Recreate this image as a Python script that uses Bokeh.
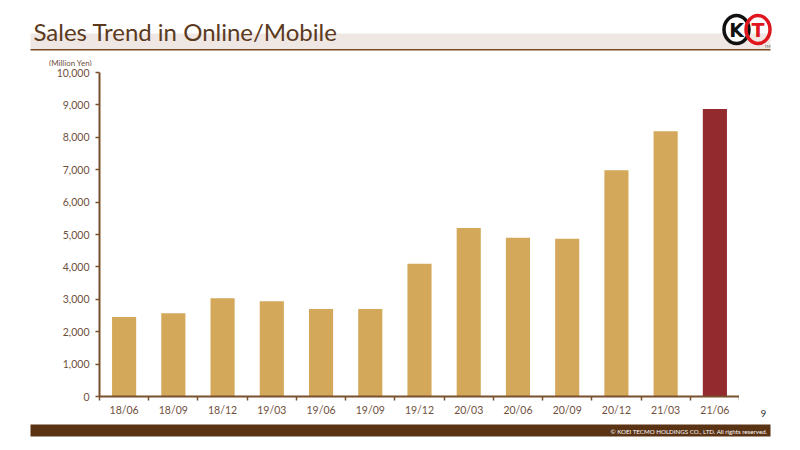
from bokeh.plotting import figure
from bokeh.models import Range1d, FixedTicker, NumeralTickFormatter, ColumnDataSource
from bokeh.layouts import column, row
from bokeh.embed import file_html
from bokeh.resources import INLINE
from bokeh.core.properties import value

# ---- data ----
periods = ["18/06", "18/09", "18/12", "19/03", "19/06", "19/09", "19/12",
           "20/03", "20/06", "20/09", "20/12", "21/03", "21/06"]
sales = [2450, 2570, 3030, 2940, 2700, 2700, 4100, 5200, 4900, 4870, 6980, 8190, 8870]
y_ticks = [0, 1000, 2000, 3000, 4000, 5000, 6000, 7000, 8000, 9000, 10000]
title_text = "Sales Trend in Online/Mobile"
unit_text = "(Million Yen)"
copyright_text = "\u00a9 KOEI TECMO HOLDINGS CO., LTD. All rights reserved."
page_no = "9"

FONT = "Lato"
BROWN = "#5b3a1e"
GOLD = "#d4a85a"
RED = "#922a2e"
AXIS = "#7a4f2c"
TXT = "#6f5040"


def pixel_fig(w, h):
    f = figure(width=w, height=h, x_range=Range1d(0, w), y_range=Range1d(h, 0),
               output_backend="svg", toolbar_location=None, frame_align=False)
    f.axis.visible = False
    f.xgrid.visible = False
    f.ygrid.visible = False
    f.outline_line_color = None
    f.min_border = 0
    f.background_fill_color = "white"
    f.border_fill_color = "white"
    return f


# ---- header (canvas y 0..66) ----
HDR_H = 66
hdr = pixel_fig(800, HDR_H)
hdr.quad(left=[30], right=[770], top=[33], bottom=[48.5], fill_color="#efe7e3", line_color=None)
hdr.quad(left=[30], right=[770], top=[48.5], bottom=[50], fill_color="#7a4a22", line_color=None)
hdr.text(x=[33], y=[31], text=[title_text], text_font=value(FONT), text_font_size="24px",
         text_color=BROWN, text_baseline="middle", text_align="left")
hdr.text(x=[70], y=[62], text=[unit_text], text_font=value(FONT), text_font_size="8px",
         text_color=TXT, text_baseline="middle", text_align="center")
# logo
hdr.ellipse(x=[736], y=[29], width=25, height=28, fill_color="white",
            line_color="#111111", line_width=3.5)
hdr.ellipse(x=[757.5], y=[29], width=24, height=28, fill_color=None,
            line_color="#e0161e", line_width=3.5)
hdr.text(x=[736], y=[29.5], text=["K"], text_font=value("DejaVu Sans"), text_font_style="bold",
         text_font_size="19px", text_color="#111111", text_align="center", text_baseline="middle")
hdr.text(x=[757.5], y=[29.5], text=["T"], text_font=value("DejaVu Sans"), text_font_style="bold",
         text_font_size="19px", text_color="#e0161e", text_align="center", text_baseline="middle")
hdr.text(x=[767], y=[46], text=["TM"], text_font=value(FONT), text_font_size="4px",
         text_color="#555555", text_align="center", text_baseline="middle")

# ---- chart (canvas y 66..420, x 0..739) ----
n = len(periods)
centers = [i + 0.5 for i in range(n)]
colors = [GOLD] * (n - 1) + [RED]
src = ColumnDataSource(dict(x=centers, top=sales, color=colors, label=periods))

CH_H = 354
p = figure(width=739, height=CH_H, x_range=Range1d(0, n), y_range=Range1d(0, 10000),
           output_backend="svg", toolbar_location=None, frame_align=False)
p.min_border_left = 99
p.min_border_right = 0
p.min_border_top = 6
p.min_border_bottom = 24
p.outline_line_color = None
p.xgrid.visible = False
p.ygrid.visible = False
p.background_fill_color = "white"
p.border_fill_color = "white"

p.vbar(x="x", top="top", width=0.49, bottom=0, fill_color="color", line_color=None, source=src)

xa = p.xaxis[0]
xa.ticker = FixedTicker(ticks=centers, minor_ticks=list(range(n + 1)))
xa.major_label_overrides = {c: lab for c, lab in zip(centers, periods)}
xa.major_tick_in = 0
xa.major_tick_out = 0
xa.minor_tick_in = 0
xa.minor_tick_out = 4
xa.minor_tick_line_color = AXIS
xa.minor_tick_line_width = 1.5
xa.axis_line_color = AXIS
xa.axis_line_width = 2
xa.major_label_text_font = FONT
xa.major_label_text_font_size = "10.5px"
xa.major_label_text_color = TXT
xa.major_label_standoff = 3

ya = p.yaxis[0]
ya.ticker = FixedTicker(ticks=y_ticks, minor_ticks=[])
ya.formatter = NumeralTickFormatter(format="0,0")
ya.major_tick_in = 0
ya.major_tick_out = 4
ya.major_tick_line_color = AXIS
ya.major_tick_line_width = 1.5
ya.minor_tick_line_color = None
ya.axis_line_color = AXIS
ya.axis_line_width = 2
ya.major_label_text_font = FONT
ya.major_label_text_font_size = "10.5px"
ya.major_label_text_color = TXT
ya.major_label_standoff = 6

# right strip holding the page number
side = pixel_fig(61, CH_H)
side.text(x=[24], y=[413 - HDR_H], text=[page_no], text_font=value(FONT), text_font_size="10px",
          text_color="#333333", text_align="center", text_baseline="middle")

# ---- footer (canvas y 420..450) ----
ftr = pixel_fig(800, 30)
ftr.quad(left=[30], right=[770], top=[4], bottom=[16], fill_color="#5a3214", line_color=None)
ftr.text(x=[767], y=[10.5], text=[copyright_text], text_font=value(FONT), text_font_size="6.2px",
         text_color="white", text_align="right", text_baseline="middle")

layout = column(hdr, row(p, side, spacing=0), ftr, spacing=0)
open("out.html", "w").write(file_html(layout, INLINE))
